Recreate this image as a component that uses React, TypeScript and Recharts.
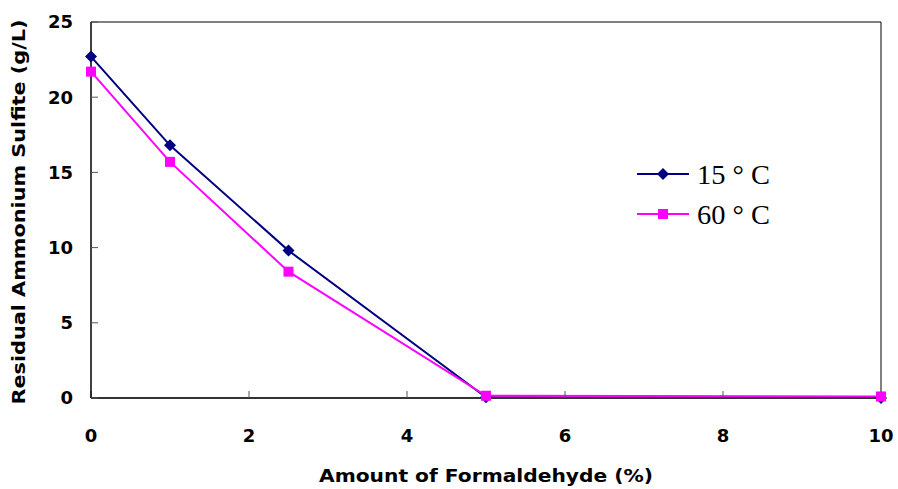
import React from "react";
import {
  LineChart,
  Line,
  XAxis,
  YAxis,
  ReferenceLine,
  Label,
} from "recharts";

const amount = [0, 1, 2.5, 5, 10];
const temp15 = [22.7, 16.8, 9.8, 0.05, 0.0];
const temp60 = [21.7, 15.7, 8.4, 0.15, 0.1];
const xTicks = [0, 2, 4, 6, 8, 10];
const yTicks = [0, 5, 10, 15, 20, 25];
const seriesNames = ["15 ° C", "60 ° C"];

const data = amount.map((a, i) => ({ amount: a, t15: temp15[i], t60: temp60[i] }));

const NAVY = "#000080";
const MAGENTA = "#FF00FF";
const SANS = "'DejaVu Sans', sans-serif";

const Diamond = (props: any) => {
  const { cx, cy } = props;
  if (cx == null || cy == null) return null;
  const r = 6;
  return (
    <path
      key={`d-${cx}-${cy}`}
      d={`M${cx},${cy - r}L${cx + r},${cy}L${cx},${cy + r}L${cx - r},${cy}Z`}
      fill={NAVY}
    />
  );
};

const Square = (props: any) => {
  const { cx, cy } = props;
  if (cx == null || cy == null) return null;
  const s = 10;
  return <rect key={`s-${cx}-${cy}`} x={cx - s / 2} y={cy - s / 2} width={s} height={s} fill={MAGENTA} />;
};

const LegendBox = () => (
  <svg width={160} height={80} style={{ position: "absolute", left: 637, top: 160 }}>
    <line x1={0} y1={14} x2={52} y2={14} stroke={NAVY} strokeWidth={2} />
    <path d="M26,8L32,14L26,20L20,14Z" fill={NAVY} />
    <text x={60} y={24} fontFamily="'Liberation Serif', serif" fontSize={28} textLength={73} lengthAdjust="spacingAndGlyphs">
      {seriesNames[0]}
    </text>
    <line x1={0} y1={54} x2={52} y2={54} stroke={MAGENTA} strokeWidth={2} />
    <rect x={21} y={49} width={10} height={10} fill={MAGENTA} />
    <text x={60} y={64} fontFamily="'Liberation Serif', serif" fontSize={28} textLength={73} lengthAdjust="spacingAndGlyphs">
      {seriesNames[1]}
    </text>
  </svg>
);

const tickStyle = { fontSize: 18, fontWeight: 700, fill: "#000", fontFamily: SANS };

export default function App() {
  return (
    <div style={{ position: "relative", width: 898, height: 489, background: "#fff" }}>
      <style>{"body{margin:0}"}</style>
      <LineChart width={898} height={489} data={data} margin={{ top: 22, right: 17, left: 0, bottom: 0 }}>
        <XAxis
          dataKey="amount"
          type="number"
          domain={[0, 10]}
          ticks={xTicks}
          tickSize={-7}
          tickMargin={38}
          height={91}
          tick={tickStyle}
          tickLine={{ stroke: "#555" }}
          axisLine={{ stroke: "#333", strokeWidth: 2 }}
        >
          <Label
            content={(p: any) => {
              const vb = p.viewBox;
              return (
                <text
                  x={vb.x + vb.width / 2}
                  y={vb.y + 84}
                  textAnchor="middle"
                  fontSize={18}
                  fontWeight={700}
                  fontFamily={SANS}
                  textLength={334}
                  lengthAdjust="spacingAndGlyphs"
                >
                  Amount of Formaldehyde (%)
                </text>
              );
            }}
          />
        </XAxis>
        <YAxis
          type="number"
          domain={[0, 25]}
          ticks={yTicks}
          tickSize={-7}
          tickMargin={25}
          width={91}
          tick={tickStyle}
          tickLine={{ stroke: "#555" }}
          axisLine={{ stroke: "#000", strokeWidth: 1.5 }}
        >
          <Label
            content={(p: any) => {
              const vb = p.viewBox;
              const cx = vb.x + 25;
              const cy = vb.y + vb.height / 2 + 2;
              return (
                <text
                  x={cx}
                  y={cy}
                  transform={`rotate(-90 ${cx} ${cy})`}
                  textAnchor="middle"
                  fontSize={18}
                  fontWeight={700}
                  fontFamily={SANS}
                  textLength={385}
                  lengthAdjust="spacingAndGlyphs"
                >
                  Residual Ammonium Sulfite (g/L)
                </text>
              );
            }}
          />
        </YAxis>
        <ReferenceLine y={25} stroke="#000" strokeWidth={1} />
        <ReferenceLine x={10} stroke="#000" strokeWidth={1} />
        <Line
          dataKey="t15"
          name={seriesNames[0]}
          stroke={NAVY}
          strokeWidth={2}
          dot={Diamond}
          isAnimationActive={false}
        />
        <Line
          dataKey="t60"
          name={seriesNames[1]}
          stroke={MAGENTA}
          strokeWidth={2}
          dot={Square}
          isAnimationActive={false}
        />
      </LineChart>
      <LegendBox />
    </div>
  );
}
